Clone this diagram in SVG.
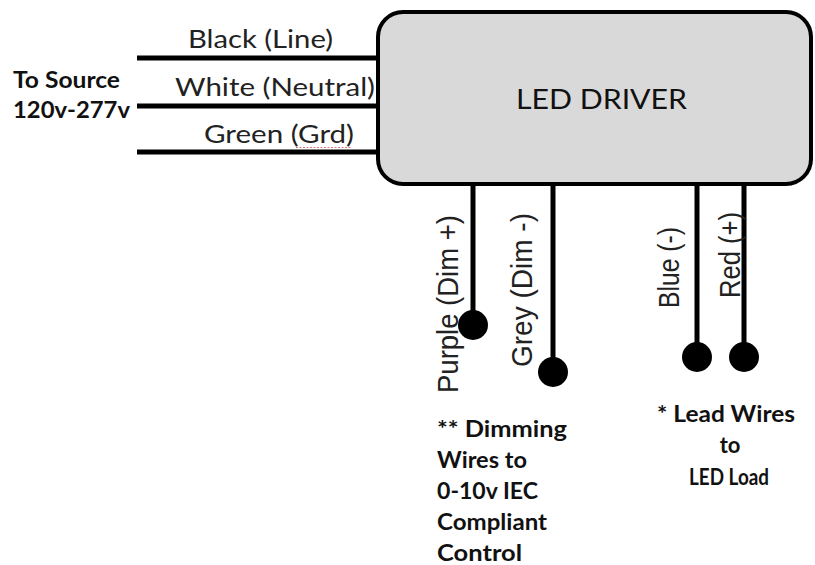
<svg xmlns="http://www.w3.org/2000/svg" width="815" height="565" viewBox="0 0 815 565">
<style>
.wire{stroke:#000;stroke-width:5;fill:none}
.dot{fill:#000}
.lbl{font-family:Lato,"Open Sans","Liberation Sans",sans-serif;font-size:25px;fill:#222}
.bold{font-family:Lato,"Open Sans","Liberation Sans",sans-serif;font-weight:bold;font-size:22px;fill:#111}
.vlbl{font-family:"Liberation Sans",Arial,sans-serif;font-size:29px;fill:#222}
</style>
<rect width="815" height="565" fill="#fff"/>
<g id="connectors">
<line class="wire" x1="137" y1="58" x2="379" y2="58"/>
<line class="wire" x1="137" y1="106" x2="379" y2="106"/>
<line class="wire" x1="137" y1="152" x2="379" y2="152"/>
<line class="wire" x1="473" y1="184" x2="473" y2="325"/>
<line class="wire" x1="553" y1="184" x2="553" y2="372"/>
<line class="wire" x1="697" y1="184" x2="697" y2="357"/>
<line class="wire" x1="744" y1="184" x2="744" y2="357"/>
</g>
<g id="source-label">
<text class="bold" x="13" y="88" textLength="107" lengthAdjust="spacingAndGlyphs">To Source</text>
<text class="bold" x="13" y="118" textLength="117" lengthAdjust="spacingAndGlyphs">120v-277v</text>
</g>
<g id="input-labels">
<text class="lbl" x="188" y="48" textLength="145" lengthAdjust="spacingAndGlyphs">Black (Line)</text>
<text class="lbl" x="175" y="96" textLength="200" lengthAdjust="spacingAndGlyphs">White (Neutral)</text>
<text class="lbl" x="204" y="143" textLength="150" lengthAdjust="spacingAndGlyphs">Green (Grd)</text>
<line x1="296" y1="147.5" x2="352" y2="147.5" stroke="#d04040" stroke-width="1.2" stroke-dasharray="2 1.5" opacity="0.7"/>
</g>
<g id="led-driver">
<rect x="378" y="12" width="433" height="172" rx="25" ry="25" fill="#d9d9d9" stroke="#000" stroke-width="4"/>
<text x="516" y="109" font-family="Lato,'Open Sans','Liberation Sans',sans-serif" font-size="26" fill="#111" textLength="171" lengthAdjust="spacingAndGlyphs">LED DRIVER</text>
</g>
<g id="purple">
<text class="vlbl" transform="translate(458,393) rotate(-90)" textLength="178" lengthAdjust="spacingAndGlyphs">Purple (Dim +)</text>
<circle class="dot" cx="473" cy="325" r="15"/>
</g>
<g id="grey">
<text class="vlbl" transform="translate(532,367) rotate(-90)" textLength="154" lengthAdjust="spacingAndGlyphs">Grey (Dim -)</text>
<circle class="dot" cx="553" cy="372" r="15"/>
</g>
<g id="blue">
<text class="vlbl" transform="translate(679,308) rotate(-90)" textLength="81" lengthAdjust="spacingAndGlyphs">Blue (-)</text>
<circle class="dot" cx="697" cy="357" r="15"/>
</g>
<g id="red">
<text class="vlbl" transform="translate(740,298) rotate(-90)" textLength="86" lengthAdjust="spacingAndGlyphs">Red (+)</text>
<circle class="dot" cx="744" cy="357" r="15"/>
</g>
<g id="dimming-note">
<text class="bold" x="437" y="437" textLength="130" lengthAdjust="spacingAndGlyphs">** Dimming</text>
<text class="bold" x="437" y="468" textLength="90" lengthAdjust="spacingAndGlyphs">Wires to</text>
<text class="bold" x="437" y="499" textLength="101" lengthAdjust="spacingAndGlyphs">0-10v IEC</text>
<text class="bold" x="437" y="530" textLength="110" lengthAdjust="spacingAndGlyphs">Compliant</text>
<text class="bold" x="437" y="561" textLength="85" lengthAdjust="spacingAndGlyphs">Control</text>
</g>
<g id="load-note">
<text class="bold" x="657" y="422" textLength="138" lengthAdjust="spacingAndGlyphs">* Lead Wires</text>
<text class="bold" x="730" y="453" text-anchor="middle">to</text>
<text class="bold" x="689" y="485" textLength="80" lengthAdjust="spacingAndGlyphs">LED Load</text>
</g>
</svg>
